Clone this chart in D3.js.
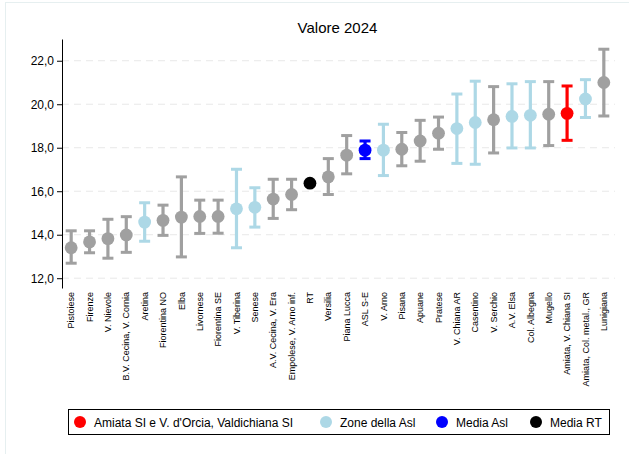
<!DOCTYPE html>
<html>
<head>
<meta charset="utf-8">
<script src="https://cdn.jsdelivr.net/npm/d3@7"></script>
<style>
  html, body { margin: 0; padding: 0; background: #fff; }
  svg { display: block; font-family: "Liberation Sans", Arial, sans-serif; }
</style>
</head>
<body>
<svg id="chart" width="629" height="454"></svg>
<script>
const categories = ["Pistoiese","Firenze","V. Nievole","B.V. Cecina, V. Cornia","Aretina","Fiorentina NO","Elba","Livornese","Fiorentina SE","V. Tiberina","Senese","A.V. Cecina, V. Era","Empolese, V. Arno inf.","RT","Versilia","Piana Lucca","ASL S-E","V. Arno","Pisana","Apuane","Pratese","V. Chiana AR","Casentino","V. Serchio","A.V. Elsa","Col. Albegna","Mugello","Amiata, V. Chiana SI","Amiata, Col. metal., GR","Lunigiana"];
const values = [13.40,13.67,13.82,13.99,14.58,14.66,14.81,14.84,14.84,15.19,15.26,15.64,15.85,16.37,16.66,17.66,17.89,17.89,17.93,18.31,18.67,18.88,19.16,19.29,19.44,19.49,19.54,19.58,20.24,21.00];
const lower  = [12.69,13.17,12.92,13.19,13.70,13.97,12.98,14.06,14.07,13.40,14.35,14.75,15.15,16.37,15.85,16.80,17.50,16.72,17.17,17.38,17.93,17.28,17.24,17.76,17.99,17.99,18.10,18.34,19.39,19.46];
const upper  = [14.18,14.18,14.71,14.83,15.47,15.36,16.66,15.59,15.59,17.01,16.16,16.55,16.55,16.37,17.50,18.56,18.31,19.08,18.70,19.26,19.41,20.47,21.06,20.81,20.94,21.04,21.04,20.84,21.13,22.53];
const groups = ["other","other","other","other","zone","other","other","other","other","zone","zone","other","other","rt","other","other","asl","zone","other","other","other","zone","zone","other","zone","zone","other","target","zone","other"];
const yTicks = [12,14,16,18,20,22];
const legendLabels = ["Amiata SI e V. d'Orcia, Valdichiana SI","Zone della Asl","Media Asl","Media RT"];
const legendGroups = ["target","zone","asl","rt"];
const title = "Valore 2024";

const colorOf = d3.scaleOrdinal()
  .domain(["other","zone","asl","rt","target"])
  .range(["#a0a0a0","#add8e6","#0000ff","#000000","#ff0000"]);

const data = categories.map((c,i)=>({c, v:values[i], lo:lower[i], hi:upper[i], g:groups[i]}));

const svg = d3.select("#chart");
const mLeft = 62, mRight = 613, mTop = 39, mBottom = 288;

// outer frame
svg.append("rect").attr("x",5.5).attr("y",2.5).attr("width",640).attr("height",460)
  .attr("fill","none").attr("stroke","#e6eff0").attr("stroke-width",1);

const x = d3.scaleBand().domain(categories).range([mLeft, mRight]).paddingInner(0).paddingOuter(0);
const y = d3.scaleLinear().domain([11.55, 23]).range([mBottom, mTop]);

const loc = d3.formatLocale({decimal: ",", thousands: ".", grouping: [3], currency: ["€",""]});
const fmt = loc.format(".1f");

// grid
svg.append("g").selectAll("line").data(yTicks).join("line")
  .attr("x1", mLeft).attr("x2", mRight + 2)
  .attr("y1", d=>y(d)).attr("y2", d=>y(d))
  .attr("stroke","#e8e8e8").attr("stroke-width",1).attr("stroke-dasharray","7,5");

// y axis
const yAxis = svg.append("g").attr("transform",`translate(${mLeft},0)`)
  .call(d3.axisLeft(y).tickValues(yTicks).tickFormat(fmt).tickSize(5).tickSizeOuter(0));
yAxis.select(".domain").attr("stroke","#000");
yAxis.selectAll(".tick line").attr("stroke","#000");
yAxis.selectAll(".tick text").attr("font-size",12).attr("fill","#000")
  .attr("font-family","'Liberation Sans', Arial, sans-serif").attr("x",-8);

// x labels
const xAxis = svg.append("g").attr("transform",`translate(0,${mBottom})`)
  .call(d3.axisBottom(x).tickSize(0));
xAxis.select(".domain").remove();
xAxis.selectAll(".tick text")
  .attr("font-size",9).attr("fill","#000")
  .attr("font-family","'Liberation Sans', Arial, sans-serif")
  .attr("transform","rotate(-90)")
  .attr("text-anchor","end")
  .attr("x",-4).attr("y",0).attr("dy","0.35em");

// error bars
const cx = d => x(d.c) + x.bandwidth()/2;
const eb = svg.append("g");
const withBars = data.filter(d => d.hi > d.lo);
eb.selectAll("line.v").data(withBars).join("line").attr("class","v")
  .attr("x1",cx).attr("x2",cx).attr("y1",d=>y(d.lo)).attr("y2",d=>y(d.hi))
  .attr("stroke",d=>colorOf(d.g)).attr("stroke-width",3.2);
["lo","hi"].forEach(k=>{
  eb.selectAll("line.c"+k).data(withBars).join("line").attr("class","c"+k)
    .attr("x1",d=>cx(d)-5.5).attr("x2",d=>cx(d)+5.5)
    .attr("y1",d=>y(d[k])).attr("y2",d=>y(d[k]))
    .attr("stroke",d=>colorOf(d.g)).attr("stroke-width",3);
});

// points
svg.append("g").selectAll("circle").data(data).join("circle")
  .attr("cx",cx).attr("cy",d=>y(d.v)).attr("r",6.4)
  .attr("fill",d=>colorOf(d.g));

// title
svg.append("text").attr("x",(mLeft+mRight)/2).attr("y",32.5)
  .attr("text-anchor","middle").attr("font-size",15).attr("fill","#000").text(title);

// legend
const lg = svg.append("g");
lg.append("rect").attr("x",68.5).attr("y",409.5).attr("width",541).attr("height",25)
  .attr("fill","#fff").attr("stroke","#000").attr("stroke-width",1);
const legX = [80, 326, 442, 536];
legendLabels.forEach((lab,i)=>{
  lg.append("circle").attr("cx",legX[i]).attr("cy",422).attr("r",6).attr("fill",colorOf(legendGroups[i]));
  lg.append("text").attr("x",legX[i]+14).attr("y",426.5).attr("font-size",12).attr("fill","#000").text(lab);
});
</script>
</body>
</html>
